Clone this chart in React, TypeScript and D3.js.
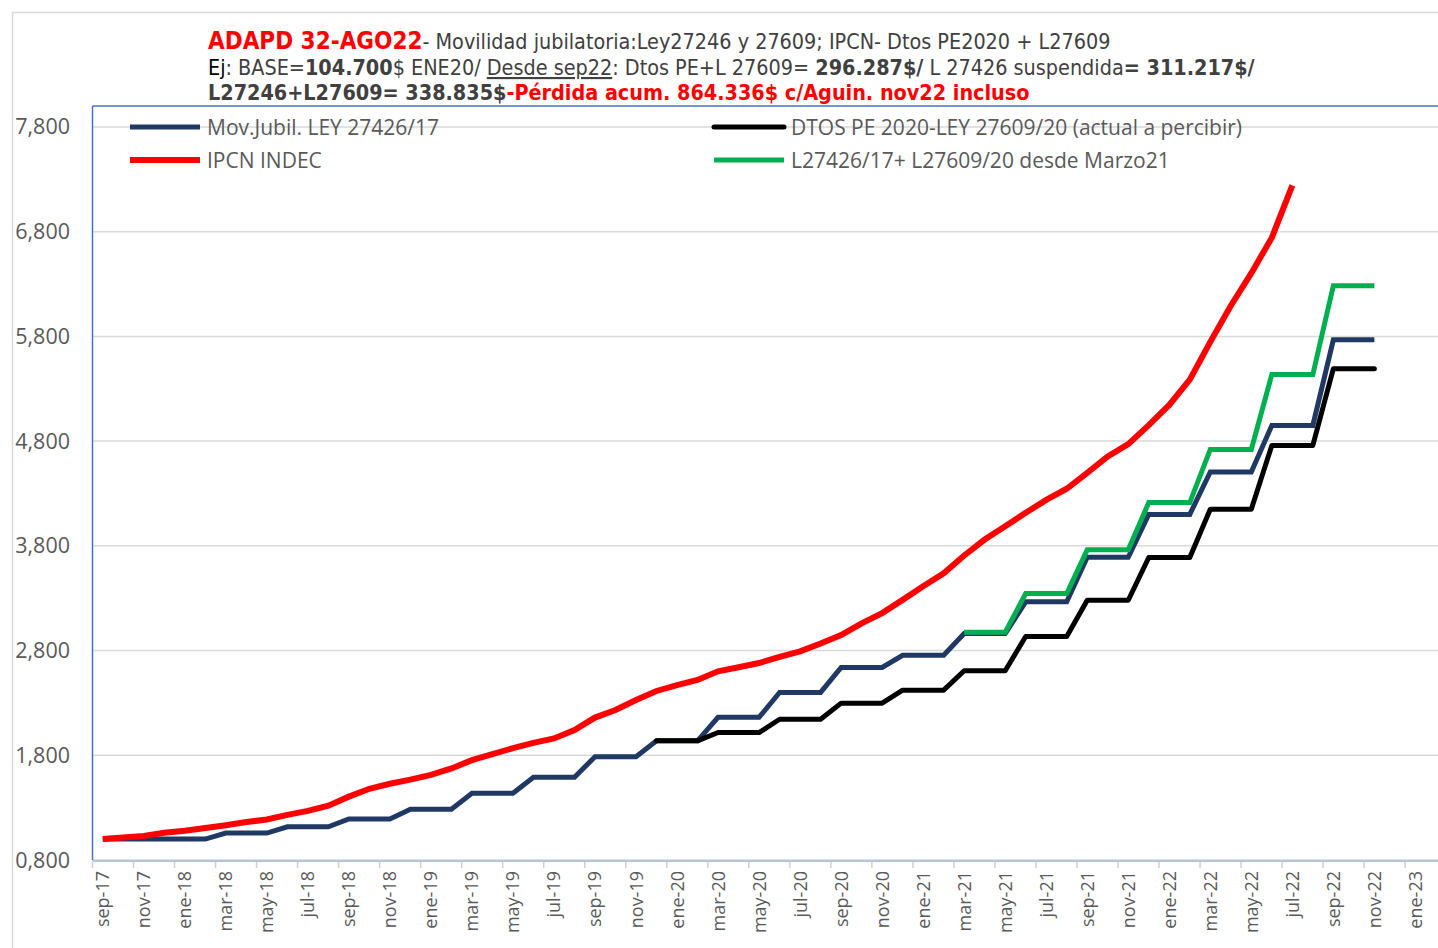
import React from 'react';
import * as d3 from 'd3';

// meses sep-17 .. feb-23
const months = [
  'sep-17', 'oct-17', 'nov-17', 'dic-17',
  'ene-18', 'feb-18', 'mar-18', 'abr-18', 'may-18', 'jun-18', 'jul-18', 'ago-18', 'sep-18', 'oct-18', 'nov-18', 'dic-18',
  'ene-19', 'feb-19', 'mar-19', 'abr-19', 'may-19', 'jun-19', 'jul-19', 'ago-19', 'sep-19', 'oct-19', 'nov-19', 'dic-19',
  'ene-20', 'feb-20', 'mar-20', 'abr-20', 'may-20', 'jun-20', 'jul-20', 'ago-20', 'sep-20', 'oct-20', 'nov-20', 'dic-20',
  'ene-21', 'feb-21', 'mar-21', 'abr-21', 'may-21', 'jun-21', 'jul-21', 'ago-21', 'sep-21', 'oct-21', 'nov-21', 'dic-21',
  'ene-22', 'feb-22', 'mar-22', 'abr-22', 'may-22', 'jun-22', 'jul-22', 'ago-22', 'sep-22', 'oct-22', 'nov-22', 'dic-22',
  'ene-23', 'feb-23',
];

const yTicks = [800, 1800, 2800, 3800, 4800, 5800, 6800, 7800];
const yTickLabels = ['0,800', '1,800', '2,800', '3,800', '4,800', '5,800', '6,800', '7,800'];

// Mov.Jubil. LEY 27426/17
const movJubil = [
  1000, 1000, 1000, 1000, 1000, 1000,
  1057, 1057, 1057, 1117, 1117, 1117, 1192, 1192, 1192, 1285, 1285, 1285,
  1437, 1437, 1437, 1591, 1591, 1591, 1786, 1786, 1786, 1938, 1938, 1938,
  2162, 2162, 2162, 2400, 2400, 2400, 2639, 2639, 2639, 2755, 2755, 2755,
  2962, 2962, 2962, 3265, 3265, 3265, 3691, 3691, 3691, 4100, 4100, 4100,
  4505, 4505, 4505, 4950, 4950, 4950, 5767, 5767, 5767,
];

// IPCN INDEC
const ipcn = [
  1000, 1015, 1029, 1061, 1080, 1106, 1132, 1162, 1187, 1231,
  1269, 1319, 1405, 1480, 1528, 1567, 1613, 1674, 1753, 1812,
  1868, 1919, 1961, 2040, 2160, 2232, 2328, 2414, 2470, 2519,
  2602, 2641, 2681, 2740, 2792, 2867, 2948, 3060, 3158, 3284,
  3415, 3538, 3708, 3860, 3988, 4115, 4239, 4345, 4497, 4654,
  4771, 4952, 5145, 5387, 5748, 6093, 6404, 6743, 7242,
];

// DTOS PE 2020-LEY 27609/20
const dtosPE = [
  null, null, null, null, null, null, null, null, null, null,
  null, null, null, null, null, null, null, null, null, null,
  null, null, null, null, null, null, null, 1938, 1938, 1938,
  2017, 2017, 2017, 2144, 2144, 2144, 2298, 2298, 2298, 2422, 2422, 2422,
  2607, 2607, 2607, 2935, 2935, 2935, 3280, 3280, 3280, 3689, 3689, 3689,
  4150, 4150, 4150, 4759, 4759, 4759, 5492, 5492, 5492,
];

// L27426/17+ L27609/20 desde Marzo21
const leyMixta = [
  null, null, null, null, null, null, null, null, null, null,
  null, null, null, null, null, null, null, null, null, null,
  null, null, null, null, null, null, null, null, null, null,
  null, null, null, null, null, null, null, null, null, null,
  null, null,
  2975, 2975, 2975, 3345, 3345, 3345, 3762, 3762, 3762, 4213, 4213, 4213,
  4721, 4721, 4721, 5435, 5435, 5435, 6283, 6283, 6283,
];

const series = [
  { name: 'Mov.Jubil. LEY 27426/17', values: movJubil, color: '#203864', width: 5, cap: 'butt' },
  { name: 'DTOS PE 2020-LEY 27609/20 (actual a percibir)', values: dtosPE, color: '#000000', width: 5, cap: 'round' },
  { name: 'IPCN INDEC', values: ipcn, color: '#FF0000', width: 6, cap: 'butt' },
  { name: 'L27426/17+ L27609/20 desde Marzo21', values: leyMixta, color: '#00B050', width: 5, cap: 'butt' },
];

const W = 1438;
const H = 948;
const left = 92.5;
const top = 106;
const bottom = 860;
const step = 20.51;

export default function App() {
  const x = d3.scaleBand().domain(months).range([left, left + months.length * step]).padding(0);
  const y = d3.scaleLinear().domain([800, 8000]).range([bottom, top]);

  const line = d3
    .line<number | null>()
    .defined((d) => d != null)
    .x((_, i) => (x(months[i]) as number) + x.bandwidth() / 2)
    .y((d) => y(d as number));

  const fontUI = '"Open Sans", sans-serif';
  const fontTitle = '"DejaVu Sans Condensed", "DejaVu Sans", sans-serif';

  const legend = [
    { s: series[0], lx: 130, tx: 207, ly: 127 },
    { s: series[1], lx: 714, tx: 791, ly: 127 },
    { s: series[2], lx: 130, tx: 207, ly: 160 },
    { s: series[3], lx: 714, tx: 791, ly: 160 },
  ];

  return (
    <div style={{ position: 'absolute', left: 0, top: 0, width: W, height: H, background: '#fff' }}>
      <svg width={W} height={H} style={{ display: 'block' }}>
        <rect x={12.5} y={12.5} width={W + 20} height={H + 20} fill="#fff" stroke="#d9d9d9" strokeWidth={1.5} />

        {/* titulo */}
        <g fontFamily={fontTitle} fontSize={21.4} fill="#404040">
          <text x={208} y={49}>
            <tspan fill="#FF0000" fontWeight="bold" fontSize={24}>ADAPD 32-AGO22</tspan>
            <tspan>- Movilidad jubilatoria:Ley27246 y 27609; IPCN- Dtos PE2020 + L27609</tspan>
          </text>
          <text x={208} y={75}>
            <tspan fill="#000">Ej</tspan>
            <tspan>: BASE=</tspan>
            <tspan fontWeight="bold">104.700</tspan>
            <tspan>$ ENE20/ </tspan>
            <tspan textDecoration="underline">Desde sep22</tspan>
            <tspan>: Dtos PE+L 27609= </tspan>
            <tspan fontWeight="bold">296.287$/</tspan>
            <tspan> L 27426 suspendida</tspan>
            <tspan fontWeight="bold">= 311.217$/</tspan>
          </text>
          <text x={208} y={100} fontWeight="bold">
            <tspan>L27246+L27609= 338.835$</tspan>
            <tspan fill="#FF0000">-Pérdida acum. 864.336$ c/Aguin. nov22 incluso</tspan>
          </text>
        </g>

        {/* grilla */}
        {yTicks.map((t) => (
          <line key={t} x1={left} x2={W} y1={y(t)} y2={y(t)} stroke="#d9d9d9" strokeWidth={1.5} />
        ))}

        {/* marco del area */}
        <line x1={left} x2={W} y1={top} y2={top} stroke="#4472C4" strokeWidth={1.5} />
        <line x1={left} x2={left} y1={top} y2={bottom} stroke="#4472C4" strokeWidth={1.5} />
        <line x1={left} x2={W} y1={bottom + 1} y2={bottom + 1} stroke="#b4c2dc" strokeWidth={2} />

        {/* eje y */}
        <g fontFamily={fontUI} fontSize={21.5} fill="#595959" textAnchor="end">
          {yTicks.map((t, i) => (
            <text key={t} x={70} y={y(t) + 7.5}>{yTickLabels[i]}</text>
          ))}
        </g>

        {/* eje x */}
        {months.map((m, i) =>
          i % 2 === 0 ? (
            <g key={m}>
              <line
                x1={x(m) as number}
                x2={x(m) as number}
                y1={bottom + 2}
                y2={bottom + 8}
                stroke="#d0d0d0"
                strokeWidth={1.5}
              />
              <text
                transform={`translate(${(x(m) as number) + x.bandwidth() / 2 + 6.5},${bottom + 11}) rotate(-90)`}
                textAnchor="end"
                fontFamily={fontUI}
                fontSize={18}
                fill="#595959"
              >
                {m}
              </text>
            </g>
          ) : null
        )}

        {/* series */}
        <g fill="none">
          {series.map((s) => (
            <path
              key={s.name}
              d={line(s.values as (number | null)[]) || ''}
              stroke={s.color}
              strokeWidth={s.width}
              strokeLinecap={s.cap as any}
              strokeLinejoin={s.cap === 'round' ? 'round' : 'miter'}
            />
          ))}
        </g>

        {/* leyenda */}
        <g fontFamily={fontUI} fontSize={21} fill="#595959">
          {legend.map((l) => (
            <g key={l.s.name}>
              <line
                x1={l.lx}
                x2={l.lx + 70}
                y1={l.ly}
                y2={l.ly}
                stroke={l.s.color}
                strokeWidth={l.s.width}
                strokeLinecap={l.s.cap as any}
              />
              <text x={l.tx} y={l.ly + 7.5}>{l.s.name}</text>
            </g>
          ))}
        </g>
      </svg>
    </div>
  );
}
